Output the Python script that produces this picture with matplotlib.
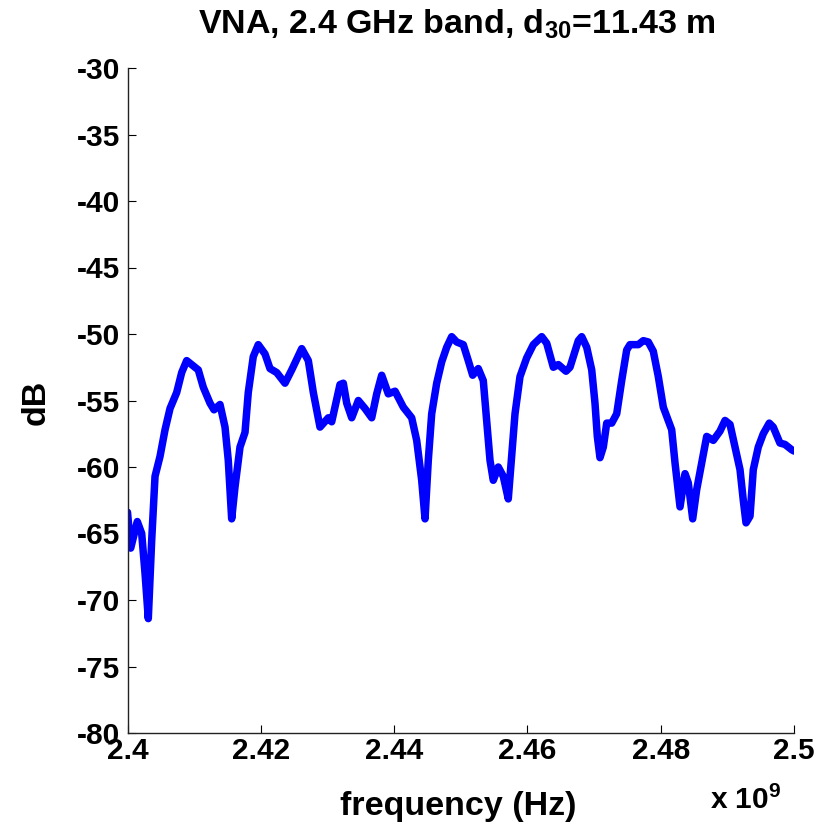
import matplotlib
matplotlib.use("Agg")
import matplotlib.pyplot as plt
from matplotlib.ticker import FixedLocator

plt.rcParams['font.family'] = ['Liberation Sans', 'DejaVu Sans']
plt.rcParams['font.weight'] = 'bold'
plt.rcParams['mathtext.fontset'] = 'custom'
plt.rcParams['mathtext.rm'] = 'Liberation Sans:bold'
plt.rcParams['mathtext.bf'] = 'Liberation Sans:bold'
plt.rcParams['mathtext.default'] = 'bf'

# frequency in GHz (plotted in Hz), magnitude in dB
freq_ghz = [2.40000, 2.40048, 2.40147, 2.40213, 2.40263, 2.40312, 2.40363, 2.40413,
            2.40488, 2.40563, 2.40638, 2.40738, 2.40813, 2.40888, 2.41062, 2.41137,
            2.41238, 2.41298, 2.41388, 2.41463, 2.41512, 2.41563, 2.41613, 2.41688,
            2.41763, 2.41812, 2.41887, 2.41962, 2.42063, 2.42138, 2.42239, 2.42363,
            2.42464, 2.42614, 2.42713, 2.42788, 2.42888, 2.43013, 2.43064, 2.43188,
            2.43238, 2.43289, 2.43364, 2.43463, 2.43563, 2.43664, 2.43739, 2.43814,
            2.43913, 2.44014, 2.44138, 2.44264, 2.44339, 2.44414, 2.44464, 2.44513,
            2.44564, 2.44639, 2.44714, 2.44789, 2.44864, 2.44939, 2.45038, 2.45113,
            2.45179, 2.45263, 2.45338, 2.45389, 2.45439, 2.45488, 2.45563, 2.45638,
            2.45713, 2.45764, 2.45814, 2.45889, 2.45989, 2.46089, 2.46215, 2.46290,
            2.46389, 2.46464, 2.46579, 2.46639, 2.46689, 2.46764, 2.46815, 2.46890,
            2.46965, 2.47014, 2.47049, 2.47089, 2.47139, 2.47190, 2.47265, 2.47340,
            2.47415, 2.47490, 2.47539, 2.47664, 2.47739, 2.47814, 2.47889, 2.47964,
            2.48039, 2.48114, 2.48165, 2.48215, 2.48290, 2.48365, 2.48414, 2.48480,
            2.48540, 2.48615, 2.48690, 2.48789, 2.48890, 2.48965, 2.49040, 2.49115,
            2.49190, 2.49239, 2.49280, 2.49340, 2.49389, 2.49464, 2.49539, 2.49629,
            2.49689, 2.49789, 2.49864, 2.49965, 2.50000]
mag_db = [-63.4, -66.1, -64.1, -65.0, -68.0, -71.4, -65.5, -60.7,
          -59.2, -57.2, -55.6, -54.4, -52.9, -52.0, -52.7, -54.0,
          -55.2, -55.7, -55.3, -57.0, -59.5, -63.9, -61.5, -58.5,
          -57.4, -54.4, -51.7, -50.8, -51.5, -52.6, -52.9, -53.7,
          -52.7, -51.1, -52.0, -54.4, -57.0, -56.3, -56.6, -53.8,
          -53.7, -55.2, -56.3, -55.0, -55.6, -56.3, -54.5, -53.1,
          -54.5, -54.3, -55.5, -56.3, -58.0, -61.0, -63.9, -59.5,
          -56.0, -53.7, -52.1, -51.0, -50.2, -50.6, -50.8, -52.0,
          -53.1, -52.6, -53.5, -56.5, -59.5, -61.0, -60.0, -60.7,
          -62.4, -59.2, -56.0, -53.2, -51.8, -50.8, -50.2, -50.7,
          -52.5, -52.3, -52.8, -52.5, -51.7, -50.5, -50.2, -51.0,
          -52.7, -55.2, -57.7, -59.3, -58.5, -56.7, -56.7, -56.0,
          -53.5, -51.2, -50.8, -50.8, -50.5, -50.6, -51.3, -53.2,
          -55.5, -56.5, -57.2, -59.7, -63.0, -60.5, -61.2, -63.9,
          -61.7, -59.7, -57.7, -58.0, -57.3, -56.5, -56.8, -58.5,
          -60.2, -62.5, -64.2, -63.7, -60.2, -58.5, -57.5, -56.7,
          -57.0, -58.2, -58.3, -58.7, -58.8]

xticks_ghz = [2.4, 2.42, 2.44, 2.46, 2.48, 2.5]
xtick_labels = ['2.4', '2.42', '2.44', '2.46', '2.48', '2.5']
yticks = [-30, -35, -40, -45, -50, -55, -60, -65, -70, -75, -80]

W, H = 822, 827
fig = plt.figure(figsize=(W / 100, H / 100), dpi=100)
ax = fig.add_axes([127.5 / W, (H - 733) / H, (794 - 127.5) / W, (733 - 68) / H])

freq_hz = [f * 1e9 for f in freq_ghz]
ax.plot(freq_hz, mag_db, color='#0000ff', linewidth=5.4, solid_joinstyle='round',
        solid_capstyle='round')

ax.set_xlim(2.4e9, 2.5e9)
ax.set_ylim(-80, -30)
ax.xaxis.set_major_locator(FixedLocator([t * 1e9 for t in xticks_ghz]))
ax.set_xticklabels(xtick_labels)
ax.set_yticks(yticks)
ax.set_yticklabels([str(v) for v in yticks])

for s in ['top', 'right']:
    ax.spines[s].set_visible(False)
for s in ['left', 'bottom']:
    ax.spines[s].set_linewidth(1.0)
    ax.spines[s].set_color('#222222')

ax.tick_params(axis='both', direction='in', length=6, width=0.8, labelsize=21.5,
               colors='black')
ax.tick_params(axis='x', pad=3)
ax.tick_params(axis='y', pad=5)
for lab in ax.get_xticklabels() + ax.get_yticklabels():
    lab.set_fontweight('bold')

fig.text(457 / W, 1 - 24 / H, r'VNA, 2.4 GHz band, d$_{30}$=11.43 m', ha='center',
         va='center', fontsize=24.5, fontweight='bold')
fig.text(458 / W, 1 - 806 / H, 'frequency (Hz)', ha='center', va='center',
         fontsize=24.5, fontweight='bold')
fig.text(746 / W, 1 - 800 / H, r'x 10$^{9}$', ha='center', va='center',
         fontsize=21.5, fontweight='bold')
fig.text(36 / W, 1 - 402 / H, 'dB', ha='center', va='center', rotation=90,
         fontsize=24.5, fontweight='bold')

fig.savefig('out.png', dpi=100, facecolor='white')
